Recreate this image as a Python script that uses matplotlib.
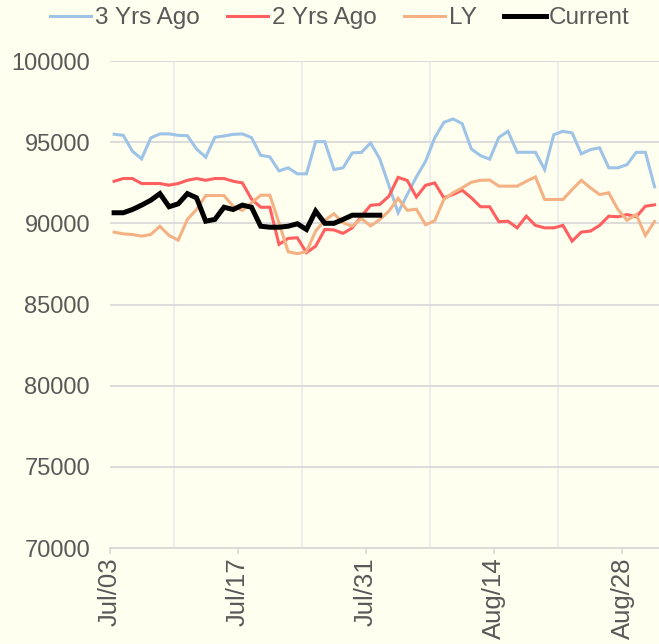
import matplotlib
matplotlib.use("Agg")
import matplotlib.pyplot as plt
import numpy as np

# ---- data (daily, Jul 03 .. Aug 31) ----
tick_labels = ["Jul/03", "Jul/17", "Jul/31", "Aug/14", "Aug/28"]
tick_days = [0, 14, 28, 42, 56]

yrs3_ago = [95500, 95430, 94450, 93980, 95270, 95520, 95520, 95430, 95410, 94590,
            94080, 95310, 95390, 95490, 95520, 95290, 94200, 94100, 93240, 93430,
            93060, 93060, 95040, 95040, 93320, 93430, 94350, 94380, 94960, 93980,
            92340, 90660, 91780, 92870, 93830, 95270, 96230, 96440, 96150, 94590,
            94180, 93960, 95300, 95680, 94385, 94385, 94385, 93320, 95470, 95680,
            95580, 94290, 94550, 94660, 93430, 93430, 93630, 94385, 94385, 92260]

yrs2_ago = [92600, 92770, 92770, 92460, 92460, 92460, 92360, 92460, 92660, 92770,
            92660, 92770, 92770, 92600, 92500, 91500, 91000, 91000, 88710, 89080,
            89120, 88200, 88600, 89630, 89600, 89390, 89730, 90450, 91120, 91170,
            91680, 92840, 92650, 91630, 92350, 92500, 91580, 91780, 92050, 91580,
            91030, 91030, 90110, 90140, 89730, 90450, 89880, 89730, 89730, 89880,
            88910, 89470, 89530, 89880, 90450, 90410, 90550, 90410, 91060, 91150]

last_year = [89465, 89360, 89320, 89220, 89320, 89830, 89260, 88970, 90250, 90860,
             91720, 91720, 91720, 91060, 90800, 91270, 91740, 91740, 90040, 88260,
             88140, 88260, 89530, 90200, 90600, 90040, 89830, 90300, 89850, 90240,
             90760, 91550, 90810, 90880, 89920, 90170, 91480, 91890, 92200, 92540,
             92660, 92680, 92300, 92300, 92300, 92600, 92870, 91480, 91480, 91480,
             92090, 92660, 92200, 91780, 91890, 90860, 90200, 90550, 89260, 90120]

current = [90660, 90660, 90860, 91130, 91430, 91840, 91030, 91210, 91840, 91580,
           90140, 90250, 91000, 90860, 91130, 91000, 89830, 89770, 89770, 89830,
           89980, 89630, 90760, 90010, 90010, 90250, 90510, 90510, 90510, 90510]

series_names = ["3 Yrs Ago", "2 Yrs Ago", "LY", "Current"]

# ---- style ----
bg = "#FFFFEF"
colors = ["#9DC3E6", "#FF5F5F", "#F4B183", "#000000"]
widths = [2.2, 2.2, 2.2, 3.6]
font = ["Liberation Sans", "DejaVu Sans"]
plt.rcParams["font.family"] = font

fig = plt.figure(figsize=(6.59, 6.44), dpi=100, facecolor=bg)
ax = fig.add_axes([0.1662, 0.149, 0.834, 0.756], facecolor=bg)

all_series = [yrs3_ago, yrs2_ago, last_year, current]
handles = []
for name, vals, c, w in zip(series_names, all_series, colors, widths):
    x = np.arange(len(vals)) + 0.5
    h, = ax.plot(x, vals, color=c, lw=w, solid_joinstyle="miter", label=name, zorder=3)
    handles.append(h)

ax.set_xlim(0, 60)
ax.set_ylim(70000, 100000)
ax.set_yticks(np.arange(70000, 100001, 5000))
ax.set_xticks(tick_days)
ax.set_xticklabels(tick_labels, rotation=90)
ax.set_xticks(np.arange(0, 61, 7), minor=True)

ax.grid(axis="y", which="major", color="#D9D9D9", lw=1.3, zorder=0)
ax.grid(axis="x", which="minor", color="#EAEAF0", lw=1.1, zorder=0)
ax.set_axisbelow(True)

for s in ["left", "right", "top"]:
    ax.spines[s].set_visible(False)
ax.spines["bottom"].set_color("#D9D9D9")
ax.spines["bottom"].set_linewidth(1.3)

ax.tick_params(axis="y", length=0, pad=14, labelsize=17, labelcolor="#595959")
ax.tick_params(axis="x", which="major", length=4, width=1.2, color="#D9D9D9",
               pad=3, labelsize=18.5, labelcolor="#595959")
ax.tick_params(axis="x", which="minor", length=0)

leg = fig.legend(handles=handles, loc="center", bbox_to_anchor=(0.516, 0.972), ncol=4,
                 frameon=False, fontsize=17.5, handlelength=1.7, handletextpad=0.15,
                 columnspacing=1.12, labelcolor="#595959")

fig.savefig("out.png", dpi=100, facecolor=bg)
